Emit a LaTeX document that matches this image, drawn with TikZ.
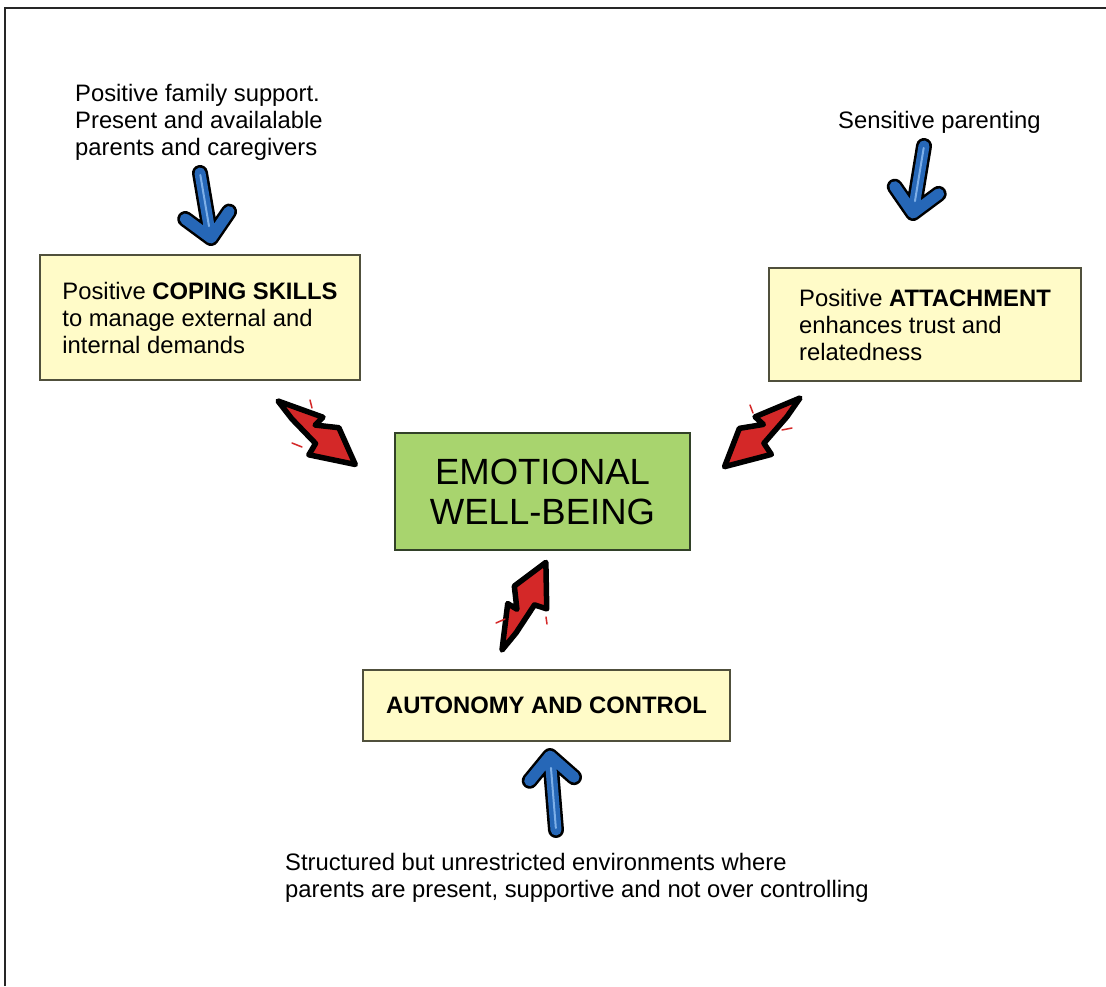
\documentclass[tikz,border=0pt]{standalone}
\usepackage{fontspec}
\setmainfont{Liberation Sans}
\usetikzlibrary{calc}

\definecolor{boxyellow}{RGB}{255,251,200}
\definecolor{boxgreen}{RGB}{168,212,110}
\definecolor{boxline}{RGB}{80,80,60}
\definecolor{greenline}{RGB}{50,65,40}
\definecolor{arrowblue}{RGB}{38,103,183}
\definecolor{shineblue}{RGB}{125,175,232}
\definecolor{boltred}{RGB}{212,40,40}

\tikzset{
  infobox/.style={draw=boxline, line width=2pt, fill=boxyellow, align=left, inner sep=0pt,
    font={\fontsize{23.8}{27}\selectfont}},
  wellbox/.style={draw=greenline, line width=2pt, fill=boxgreen, align=center, inner sep=0pt,
    font={\fontsize{36.5}{40}\selectfont}},
  note/.style={align=left, inner sep=0pt, anchor=base west, font={\fontsize{23.8}{27}\selectfont}},
  bluearrow/.style={draw=arrowblue, line width=11pt, line cap=round, line join=round,
    preaction={draw=black, line width=16pt, line cap=round, line join=round}},
  shine/.style={draw=shineblue, line width=2pt, line cap=round},
  boltfill/.style={fill=boltred, draw=black, line width=5.5pt, line join=round},
  flick/.style={draw=boltred, line width=1.5pt, line cap=round},
  redbolt/.pic={
    \path[boltfill] (0,0) -- (0.45,0.16) -- (0.44,0.05) -- (0.64,0.18) -- (1,0)
      -- (0.58,-0.22) -- (0.56,-0.09) -- (0.22,-0.05) -- cycle;
  }
}

% blue arrow from tail to tip, with a chevron head
\newcommand\bluearrow[2]{%
  \draw[bluearrow] (#1) -- (#2)
    ($(#2)!32pt!44:(#1)$) -- (#2) -- ($(#2)!32pt!-44:(#1)$);
  \draw[shine] ($(#1)!2pt!(#2)$) -- ($(#2)!12pt!(#1)$);}

\begin{document}
\begin{tikzpicture}[x=1pt, y=1pt]
    \useasboundingbox (0,0) rectangle (1106,-986);
    \draw[line width=2.5pt, black!85] (5,-986) -- (5,-8) -- (1106,-8);

    % texts outside the boxes
    \node[note] (family) at (75,-155) {Positive family support.\\Present and availalable\\parents and caregivers};
    \node[note] (sensitive) at (838,-128) {Sensitive parenting};
    \node[note] (structured) at (285,-897) {Structured but unrestricted environments where\\parents are present, supportive and not over controlling};

    % boxes
    \node[infobox, minimum width=320pt, minimum height=125pt] (coping) at (200,-317.5)
        {Positive \textbf{COPING SKILLS}\\to manage external and\\internal demands};
    \node[infobox, minimum width=312pt, minimum height=113pt] (attach) at (925,-324.5)
        {Positive \textbf{ATTACHMENT}\\enhances trust and\\relatedness};
    \node[wellbox, minimum width=295pt, minimum height=117pt] (well) at (542.5,-491.5)
        {EMOTIONAL\\WELL-BEING};
    \node[infobox, minimum width=367pt, minimum height=71pt] (autonomy) at (546.5,-705.5)
        {\textbf{AUTONOMY AND CONTROL}};

    % blue arrows
    \coordinate (familyTail) at (200,-173);
    \coordinate (familyTip) at (211,-238);
    \coordinate (sensTail) at (924,-146);
    \coordinate (sensTip) at (913,-213);
    \coordinate (structTail) at (556,-830);
    \coordinate (structTip) at (550,-756);
    \bluearrow{familyTail}{familyTip}
    \bluearrow{sensTail}{sensTip}
    \bluearrow{structTail}{structTip}

    % red bolts into the centre box
    \coordinate (copingBolt) at (278,-401);
    \coordinate (attachBolt) at (800,-398);
    \coordinate (autoBolt) at (502,-650);
    \pic[rotate=-39.4, scale=100] at (copingBolt) {redbolt};
    \pic[rotate=-137.7, yscale=-1, scale=102] at (attachBolt) {redbolt};
    \pic[rotate=63.4, scale=98] at (autoBolt) {redbolt};
    \draw[flick] (310,-400) -- (312,-408);
    \draw[flick] (292,-443) -- (302,-447);
    \draw[flick] (750,-405) -- (753,-413);
    \draw[flick] (782,-430) -- (792,-428);
    \draw[flick] (496,-623) -- (505,-619);
    \draw[flick] (546,-617) -- (547,-624);
\end{tikzpicture}
\end{document}
